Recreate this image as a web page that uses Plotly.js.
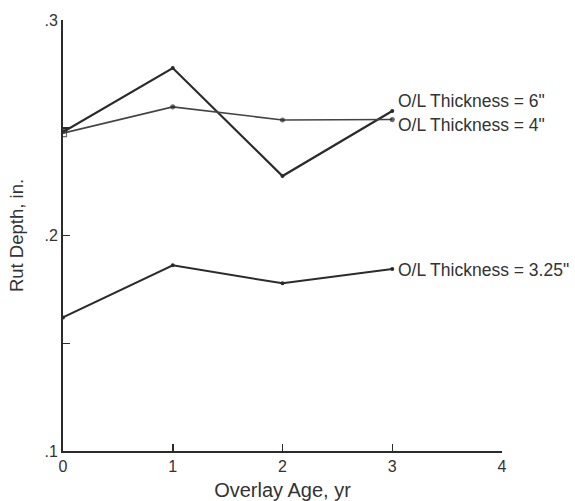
<!DOCTYPE html>
<html>
<head>
<meta charset="utf-8">
<script src="https://cdn.plot.ly/plotly-3.0.1.min.js"></script>
<style>html,body{margin:0;padding:0;background:#fff;}#chart{width:575px;height:501px;}</style>
</head>
<body>
<div id="chart"></div>
<script>
const overlayAge = [0, 1, 2, 3];
const rut6in = [0.248, 0.2777, 0.2276, 0.2578];
const rut4in = [0.2475, 0.2597, 0.2536, 0.2538];
const rut325in = [0.162, 0.1862, 0.1778, 0.1845];
const seriesLabels = ['O/L Thickness = 6"', 'O/L Thickness = 4"', 'O/L Thickness = 3.25"'];
const yTickVals = [0.1, 0.15, 0.2, 0.25, 0.3];
const yTickText = ['.1', '', '.2', '', '.3'];
const xTickVals = [0, 1, 2, 3, 4];
const xTickText = ['0', '1', '2', '3', '4'];

const ink = '#2b2b2b';
const font = 'Liberation Sans, Arial, sans-serif';

const traces = [
  {x: overlayAge, y: rut6in, mode: 'lines+markers', line: {color: ink, width: 2.2}, marker: {size: 4, color: ink}},
  {x: overlayAge, y: rut4in, mode: 'lines+markers', line: {color: '#444', width: 1.6},
   marker: {size: [7, 4, 4, 4], color: ink, symbol: ['square-open', 'circle', 'circle', 'circle'], line: {color: ink, width: 1.2}}},
  {x: overlayAge, y: rut325in, mode: 'lines+markers', line: {color: ink, width: 2}, marker: {size: 4, color: ink}}
];

const annotations = [
  {x: overlayAge[3], y: rut6in[3], text: seriesLabels[0], yshift: 10},
  {x: overlayAge[3], y: rut4in[3], text: seriesLabels[1], yshift: -5},
  {x: overlayAge[3], y: rut325in[3], text: seriesLabels[2], yshift: -1}
].map(a => Object.assign(a, {xref: 'x', yref: 'y', xanchor: 'left', yanchor: 'middle', xshift: 4, showarrow: false, font: {family: font, size: 17.5, color: '#333'}}));

const layout = {
  width: 575, height: 501,
  margin: {l: 63, r: 73, t: 20, b: 50},
  paper_bgcolor: '#fff', plot_bgcolor: '#fff',
  showlegend: false,
  font: {family: font, color: '#333'},
  xaxis: {
    range: [0, 4], showgrid: false, zeroline: false,
    showline: true, linecolor: ink, linewidth: 2,
    ticks: 'inside', ticklen: 7, tickwidth: 1.5, tickcolor: ink,
    tickvals: xTickVals, ticktext: xTickText,
    tickfont: {family: font, size: 16, color: '#333'},
    title: {text: 'Overlay Age, yr', font: {family: font, size: 20, color: '#333'}, standoff: 9}
  },
  yaxis: {
    range: [0.1, 0.3], showgrid: false, zeroline: false,
    showline: true, linecolor: ink, linewidth: 2,
    ticks: 'inside', ticklen: 7, tickwidth: 1.5, tickcolor: ink,
    tickvals: yTickVals, ticktext: yTickText,
    tickfont: {family: font, size: 16, color: '#333'},
    title: {text: 'Rut Depth, in.', font: {family: font, size: 18.5, color: '#333'}, standoff: 16}
  },
  annotations: annotations
};

Plotly.newPlot('chart', traces, layout, {displayModeBar: false, staticPlot: true});
</script>
</body>
</html>
